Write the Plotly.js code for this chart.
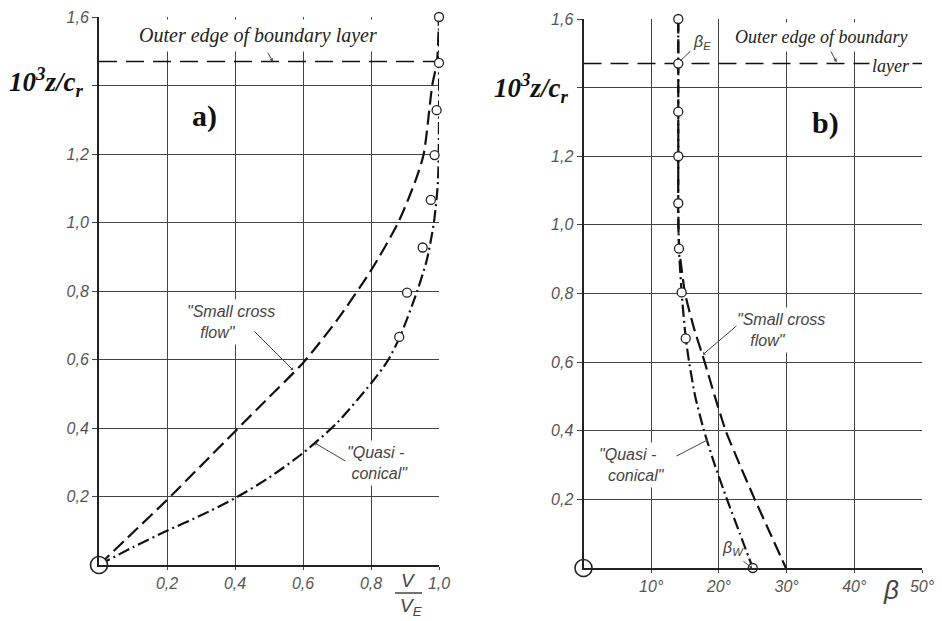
<!DOCTYPE html>
<html>
<head>
<meta charset="utf-8">
<script src="https://cdn.plot.ly/plotly-3.0.1.min.js"></script>
<style>html,body{margin:0;padding:0;background:#fff;}#chart{width:942px;height:621px;}</style>
</head>
<body>
<div id="chart"></div>
<script>
// ---------- Panel a) : velocity ratio V/V_E vs 10^3 z/c_r ----------
const vA_small = [0, 0.1, 0.2, 0.3, 0.4, 0.5, 0.6, 0.7, 0.8, 0.88, 0.93, 0.955, 0.98, 0.994, 1.0];
const zA_small = [0, 0.095, 0.19, 0.29, 0.39, 0.49, 0.59, 0.715, 0.86, 1.0, 1.12, 1.2, 1.4, 1.47, 1.6];
const vA_quasi = [0, 0.1, 0.2, 0.3, 0.4, 0.5, 0.6, 0.7, 0.8, 0.847, 0.885, 0.936, 0.964, 0.985, 0.997, 1.0, 1.0];
const zA_quasi = [0, 0.052, 0.1, 0.145, 0.195, 0.255, 0.327, 0.415, 0.53, 0.593, 0.666, 0.8, 0.89, 1.0, 1.12, 1.3, 1.6];
const vA_exp = [1.0, 1.0, 0.993, 0.987, 0.976, 0.952, 0.906, 0.883];
const zA_exp = [1.6, 1.466, 1.328, 1.197, 1.066, 0.927, 0.795, 0.666];

// ---------- Panel b) : flow angle beta vs 10^3 z/c_r ----------
const bB_small = [14.0, 14.0, 14.0, 14.2, 15.0, 16.3, 17.9, 19.4, 21.0, 23.1, 25.3, 27.6, 29.9];
const zB_small = [1.6, 1.2, 1.0, 0.92, 0.8, 0.7, 0.6, 0.5, 0.4, 0.3, 0.2, 0.1, 0];
const bB_quasi = [14.0, 14.0, 14.0, 14.1, 14.5, 15.1, 15.6, 16.5, 17.8, 19.4, 21.2, 23.1, 25.0];
const zB_quasi = [1.6, 1.2, 1.063, 0.93, 0.8, 0.67, 0.6, 0.5, 0.4, 0.3, 0.2, 0.1, 0];
const bB_exp = [14.0, 14.0, 14.0, 14.0, 14.0, 14.1, 14.5, 15.1, 25.0];
const zB_exp = [1.6, 1.47, 1.33, 1.2, 1.063, 0.931, 0.803, 0.669, 0];

// common
const origin = [0];
const boundaryZ = 1.47;
const rangeA = [0, 1.0];
const rangeB = [0, 50];
const rangeZ = [0, 1.6];
const zTicks = [0.2, 0.4, 0.6, 0.8, 1.0, 1.2, 1.4, 1.6];
const zTickText = ['0,2', '0,4', '0,6', '0,8', '1,0', '1,2', '', '1,6'];
const vTicks = [0.2, 0.4, 0.6, 0.8, 1.0];
const vTickText = ['0,2', '0,4', '0,6', '0,8', '1,0'];
const bTicks = [10, 20, 30, 40, 50];
const bTickText = ['10°', '20°', '30°', '40°', '50°'];

const W = 942, H = 621;
const px = v => v / W;
const py = v => 1 - v / H;

const DASH = '14px,6px';
const DASHDOT = '12px,4px,2px,4px';
const lineC = '#111';
const openMarker = {symbol: 'circle', size: 9, color: '#fff', line: {color: '#222', width: 1.3}};
const originMarker = {symbol: 'circle', size: 17, color: '#fff', line: {color: '#222', width: 1.6}};

function line(x, y, dash, xa, ya, w, smooth) {
  const ln = {color: lineC, width: w || 2.2, dash: dash};
  if (smooth) { ln.shape = 'spline'; ln.smoothing = smooth; }
  return {type: 'scatter', mode: 'lines', x: x, y: y, xaxis: xa, yaxis: ya,
    line: ln, cliponaxis: false, hoverinfo: 'skip', showlegend: false};
}
function pts(x, y, xa, ya, m) {
  return {type: 'scatter', mode: 'markers', x: x, y: y, xaxis: xa, yaxis: ya,
    marker: m, cliponaxis: false, hoverinfo: 'skip', showlegend: false};
}

const traces = [
  line(rangeA, [boundaryZ, boundaryZ], '18px,9px', 'x', 'y', 1.5),
  line(vA_small, zA_small, DASH, 'x', 'y', 2.2, 0.7),
  line(vA_quasi, zA_quasi, DASHDOT, 'x', 'y', 2.2, 0.7),
  pts(vA_exp, zA_exp, 'x', 'y', openMarker),
  pts(origin, origin, 'x', 'y', originMarker),
  line(rangeB, [boundaryZ, boundaryZ], '18px,9px', 'x2', 'y2', 1.5),
  line(bB_small, zB_small, DASH, 'x2', 'y2', 2.2, 0.5),
  line(bB_quasi, zB_quasi, DASHDOT, 'x2', 'y2', 2.2, 0.5),
  pts(bB_exp, zB_exp, 'x2', 'y2', openMarker),
  pts(origin, origin, 'x2', 'y2', originMarker)
];

const tickFont = {family: 'Liberation Sans, Arial, sans-serif', size: 16, color: '#555', style: 'italic'};
function xax(domain, range, tv, tt, anchor) {
  return {domain: domain, range: range, anchor: anchor, tickvals: tv, ticktext: tt,
    showline: true, linecolor: '#222', linewidth: 2, showgrid: true, gridcolor: '#444', gridwidth: 1,
    zeroline: false, ticks: 'outside', ticklen: 3, tickcolor: '#444', tickfont: tickFont, fixedrange: true};
}
function yax(domain, anchor) {
  return {domain: domain, range: rangeZ, anchor: anchor, tickvals: zTicks, ticktext: zTickText,
    showline: true, linecolor: '#222', linewidth: 2, showgrid: true, gridcolor: '#444', gridwidth: 1,
    zeroline: false, ticks: 'outside', ticklen: 5, tickcolor: '#444', tickfont: tickFont, fixedrange: true};
}

const serif = 'Liberation Serif, Times New Roman, serif';
const sans = 'Liberation Sans, Arial, sans-serif';
const noteFont = {family: sans, size: 16, color: '#444', style: 'italic'};

function txt(x, y, text, font, opts) {
  return Object.assign({xref: 'paper', yref: 'paper', x: px(x), y: py(y), text: text, showarrow: false,
    font: font, xanchor: 'center', yanchor: 'middle'}, opts || {});
}
function arrow(xr, yr, x, y, ax, ay, head) {
  return {xref: xr, yref: yr, axref: xr, ayref: yr, x: x, y: y, ax: ax, ay: ay, text: '',
    showarrow: true, arrowhead: head == null ? 0 : head, arrowsize: 0.7, arrowwidth: 1, arrowcolor: '#444'};
}

const titleFont = {family: serif, size: 27, color: '#111', weight: 'bold', style: 'italic'};
const outerFontA = {family: serif, size: 20, color: '#222', style: 'italic'};
const outerFontB = {family: serif, size: 18, color: '#222', style: 'italic'};
const panelFont = {family: serif, size: 30, color: '#111', weight: 'bold'};

const annotations = [
  // white boxes over grid
  txt(258, 35, 'Outer edge of boundary layer', outerFontA, {bgcolor: '#fff', borderpad: 4}),
  txt(821, 37, 'Outer edge of boundary', outerFontB, {bgcolor: '#fff', borderpad: 4}),
  txt(891, 66, 'layer', outerFontB, {bgcolor: '#fff', borderpad: 2}),
  txt(183, 322, '"Small cross<br>   flow"', noteFont, {xanchor: 'left', align: 'left', bgcolor: '#fff', borderpad: 3}),
  txt(343, 463, '"Quasi -<br> conical"', noteFont, {xanchor: 'left', align: 'left', bgcolor: '#fff', borderpad: 3}),
  txt(733, 330, '"Small cross<br>   flow"', noteFont, {xanchor: 'left', align: 'left', bgcolor: '#fff', borderpad: 3}),
  txt(595, 465, '"Quasi -<br>  conical"', noteFont, {xanchor: 'left', align: 'left', bgcolor: '#fff', borderpad: 3}),
  txt(702, 43, 'β<sub>E</sub>', noteFont),
  txt(733, 548, 'β<sub>W</sub>', noteFont),
  // axis titles
  txt(46, 82, '10<sup>3</sup>z/c<sub>r</sub>', titleFont, {bgcolor: '#fff'}),
  txt(531, 88, '10<sup>3</sup>z/c<sub>r</sub>', titleFont, {bgcolor: '#fff'}),
  txt(408, 580, 'V', {family: sans, size: 19, color: '#444', style: 'italic'}),
  txt(411, 607, 'V<sub>E</sub>', {family: sans, size: 19, color: '#444', style: 'italic'}),
  txt(891, 590, 'β', {family: sans, size: 26, color: '#444', style: 'italic'}),
  // panel labels
  txt(204, 116, 'a)', panelFont),
  txt(825, 123, 'b)', panelFont),
  // pointer lines
  arrow('x', 'y', 0.571, 0.569, 0.453, 0.686, 1),
  arrow('x', 'y', 0.635, 0.356, 0.729, 0.301, 1),
  arrow('x', 'y', 0.512, 1.469, 0.494, 1.50, 2),
  arrow('x2', 'y2', 17.65, 0.622, 22.8, 0.709, 1),
  arrow('x2', 'y2', 18.4, 0.374, 13.5, 0.324, 1),
  arrow('x2', 'y2', 24.9, 0.0, 23.4, 0.023, 1),
  arrow('x2', 'y2', 14.25, 1.477, 16.0, 1.51, 0),
  arrow('x2', 'y2', 37.4, 1.474, 36.4, 1.51, 2)
];

const shapes = [
  {type: 'line', xref: 'paper', yref: 'paper', x0: px(395), x1: px(422), y0: py(593), y1: py(593),
   line: {color: '#444', width: 1.5}}
];

const layout = {
  width: W, height: H,
  margin: {l: 0, r: 0, t: 0, b: 0},
  paper_bgcolor: '#fff', plot_bgcolor: '#fff',
  showlegend: false,
  separators: ', ',
  xaxis: xax([px(99), px(439)], rangeA, vTicks, vTickText, 'y'),
  yaxis: yax([py(565), py(17)], 'x'),
  xaxis2: xax([px(583.5), px(922)], rangeB, bTicks, bTickText, 'y2'),
  yaxis2: yax([py(568), py(19)], 'x2'),
  annotations: annotations,
  shapes: shapes
};

Plotly.newPlot('chart', traces, layout, {staticPlot: true, displayModeBar: false});
</script>
</body>
</html>
